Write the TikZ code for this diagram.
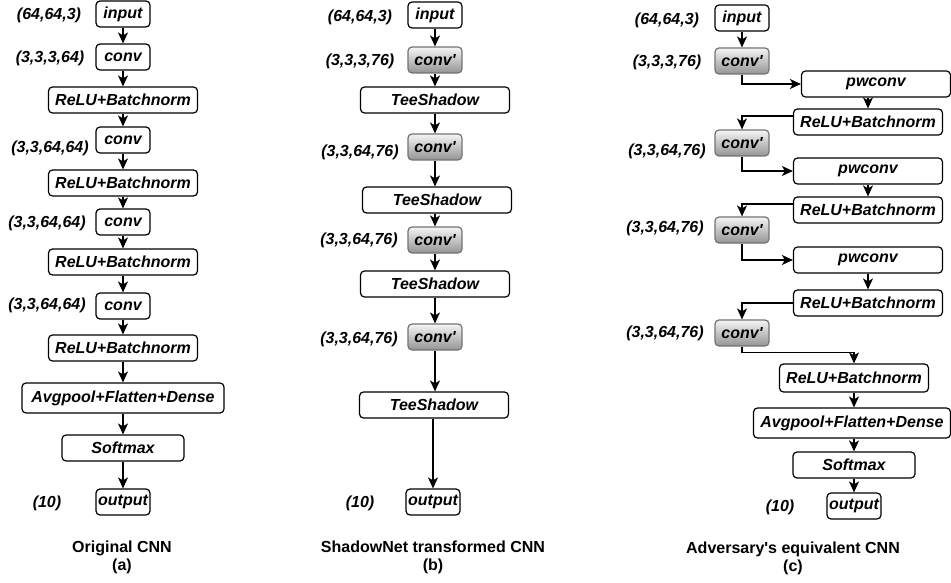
\documentclass[tikz,border=0pt]{standalone}
\usepackage{fontspec}
\setmainfont{Liberation Sans}
\usepackage{tikz}
\usetikzlibrary{arrows.meta, positioning, calc}

\tikzset{
    layer/.style={draw=black, line width=1.2pt, rounded corners=4pt, minimum height=26pt, inner xsep=2pt, inner ysep=1pt, font=\fontsize{16}{19}\selectfont\bfseries\itshape},
    small/.style={layer, minimum width=54pt},
    wide/.style={layer, minimum width=149pt},
    shadowed/.style={small, draw=black!55, top color=black!4, bottom color=black!42},
    dims/.style={font=\fontsize{16}{19}\selectfont\bfseries\itshape},
    caption/.style={align=center, font=\fontsize{16}{18}\selectfont\bfseries},
    flow/.style={line width=1.3pt, -{Stealth[length=11pt, width=10pt, inset=3pt]}}
}

\begin{document}
\begin{tikzpicture}[x=1pt, y=-1pt]
    \useasboundingbox (0,0) rectangle (951,583);

    % (a) original network
    \node[small] (ina)    at (123, 14)  {input};
    \node[small] (conva1) at (123, 57)  {conv};
    \node[wide]  (bna1)   at (123, 100) {ReLU+Batchnorm};
    \node[small] (conva2) at (123, 140) {conv};
    \node[wide]  (bna2)   at (123, 183) {ReLU+Batchnorm};
    \node[small] (conva3) at (123, 222) {conv};
    \node[wide]  (bna3)   at (123, 262) {ReLU+Batchnorm};
    \node[small] (conva4) at (123, 306) {conv};
    \node[wide]  (bna4)   at (123, 348) {ReLU+Batchnorm};
    \node[layer, minimum width=202pt, minimum height=30pt] (densea) at (123, 398) {Avgpool+Flatten+Dense};
    \node[layer, minimum width=122pt] (softa) at (123, 448) {Softmax};
    \node[small] (outa)   at (123, 502) {output};

    \node[dims] (dina)  at (49, 15)  {(64,64,3)};
    \node[dims] (dwa1)  at (50, 58)  {(3,3,3,64)};
    \node[dims] (dwa2)  at (50, 148) {(3,3,64,64)};
    \node[dims] (dwa3)  at (47, 223) {(3,3,64,64)};
    \node[dims] (dwa4)  at (47, 305) {(3,3,64,64)};
    \node[dims] (douta) at (47, 503) {(10)};

    \foreach \a/\b in {ina/conva1, conva1/bna1, bna1/conva2, conva2/bna2, bna2/conva3, conva3/bna3, bna3/conva4, conva4/bna4, bna4/densea, densea/softa, softa/outa}
        \path[flow] (\a) edge (\b);

    \node[caption] (capa) at (122, 557) {Original CNN\\(a)};

    % (b) transformed network
    \node[small]    (inb)  at (435, 15)  {input};
    \node[shadowed] (cvb1) at (435, 60)  {conv\textquotesingle};
    \node[wide]     (tsb1) at (435, 100) {TeeShadow};
    \node[shadowed] (cvb2) at (435, 147) {conv\textquotesingle};
    \node[wide]     (tsb2) at (437, 200) {TeeShadow};
    \node[shadowed] (cvb3) at (435, 240) {conv\textquotesingle};
    \node[wide]     (tsb3) at (435, 284) {TeeShadow};
    \node[shadowed] (cvb4) at (435, 337) {conv\textquotesingle};
    \node[wide]     (tsb4) at (434, 405) {TeeShadow};
    \node[small]    (outb) at (433, 502) {output};

    \node[dims] (dinb)  at (360, 17)  {(64,64,3)};
    \node[dims] (dwb1)  at (360, 61)  {(3,3,3,76)};
    \node[dims] (dwb2)  at (360, 152) {(3,3,64,76)};
    \node[dims] (dwb3)  at (359, 240) {(3,3,64,76)};
    \node[dims] (dwb4)  at (359, 339) {(3,3,64,76)};
    \node[dims] (doutb) at (360, 503) {(10)};

    \path[flow] (inb)  edge (cvb1);
    \path[flow] (cvb1) edge (tsb1);
    \path[flow] (tsb1) edge (cvb2);
    \path[flow] (cvb2.south) edge (cvb2.south |- tsb2.north);
    \path[flow] (cvb3.north |- tsb2.south) edge (cvb3);
    \path[flow] (cvb3) edge (tsb3);
    \path[flow] (cvb4.north |- tsb3.south) edge (cvb4);
    \path[flow] (cvb4.south) edge (cvb4.south |- tsb4.north);
    \path[flow] (outb.north |- tsb4.south) edge (outb);

    \node[caption] (capb) at (433, 557) {ShadowNet transformed CNN\\(b)};

    % (c) adversary's network
    \node[small]    (inc)  at (742, 18)  {input};
    \node[shadowed] (cvc1) at (742, 61)  {conv\textquotesingle};
    \node[wide]     (pwc1) at (876, 84)  {pwconv};
    \node[wide]     (bnc1) at (868, 122) {ReLU+Batchnorm};
    \node[shadowed] (cvc2) at (742, 143) {conv\textquotesingle};
    \node[wide]     (pwc2) at (868, 171) {pwconv};
    \node[wide]     (bnc2) at (868, 210) {ReLU+Batchnorm};
    \node[shadowed] (cvc3) at (742, 230) {conv\textquotesingle};
    \node[wide]     (pwc3) at (868, 260) {pwconv};
    \node[wide]     (bnc3) at (868, 303) {ReLU+Batchnorm};
    \node[shadowed] (cvc4) at (742, 333) {conv\textquotesingle};
    \node[wide, minimum height=28pt] (bnc4) at (854, 378) {ReLU+Batchnorm};
    \node[layer, minimum width=197pt, minimum height=30pt] (densec) at (852, 423) {Avgpool+Flatten+Dense};
    \node[layer, minimum width=122pt] (softc) at (854, 465) {Softmax};
    \node[small]    (outc) at (854, 506) {output};

    \node[dims] (dinc)  at (667, 20)  {(64,64,3)};
    \node[dims] (dwc1)  at (667, 62)  {(3,3,3,76)};
    \node[dims] (dwc2)  at (667, 151) {(3,3,64,76)};
    \node[dims] (dwc3)  at (665, 228) {(3,3,64,76)};
    \node[dims] (dwc4)  at (665, 333) {(3,3,64,76)};
    \node[dims] (doutc) at (780, 507) {(10)};

    \path[flow] (inc) edge (cvc1);
    \draw[flow] (cvc1.south) |- (pwc1.west);
    \draw[flow] (pwc1.south -| bnc1.north) -- (bnc1.north);
    \draw[flow] ([yshift=6pt]bnc1.west) -| (cvc2.north);
    \draw[flow] (cvc2.south) |- (pwc2.west);
    \draw[flow] (pwc2.south) -- (bnc2.north);
    \draw[flow] ([yshift=6pt]bnc2.west) -| (cvc3.north);
    \draw[flow] (cvc3.south) |- (pwc3.west);
    \draw[flow] (pwc3.south) -- (bnc3.north);
    \draw[flow] (bnc3.west) -| (cvc4.north);
    \draw[flow] (cvc4.south) -- ++(0,6) -| (bnc4.north);
    \path[flow] (bnc4) edge (densec.north -| bnc4.south);
    \path[flow] (softc.north |- densec.south) edge (softc);
    \path[flow] (softc) edge (outc);

    \node[caption] (capc) at (793, 558) {Adversary\textquotesingle s equivalent CNN\\(c)};
\end{tikzpicture}
\end{document}
